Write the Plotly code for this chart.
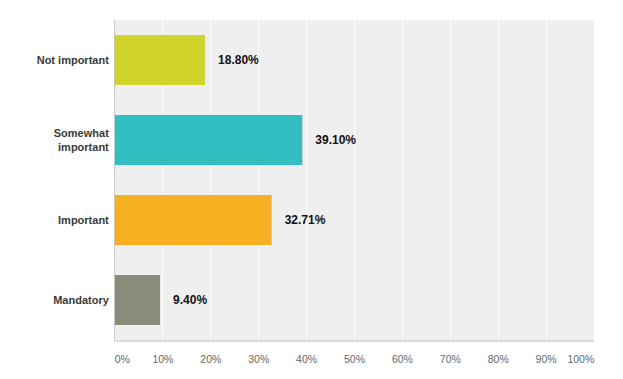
import plotly.graph_objects as go

categories = ["Not important", "Somewhat<br>important", "Important", "Mandatory"]
values = [18.80, 39.10, 32.71, 9.40]
colors = ["#d0d42a", "#33bec1", "#f7b021", "#8b8b7b"]
tick_vals = [0, 10, 20, 30, 40, 50, 60, 70, 80, 90, 100]
tick_text = ["0%", "10%", "20%", "30%", "40%", "50%", "60%", "70%", "80%", "90%", "100%"]

nb = "\u00a0"
tick_text_disp = list(tick_text)
tick_text_disp[0] = nb * 5 + tick_text[0]
tick_text_disp[-1] = tick_text[-1] + nb * 9

fig = go.Figure(go.Bar(
    y=categories,
    x=values,
    orientation="h",
    marker=dict(color=colors, line=dict(width=0)),
    width=0.625,
    text=[nb * 3 + f"{v:.2f}%" for v in values],
    textposition="outside",
    textfont=dict(family="Arial, Liberation Sans, sans-serif", size=12, color="#111111", weight="bold"),
    cliponaxis=False,
    hoverinfo="skip",
))

# page body has an 8px margin, so the figure is offset by 8px
fig.update_layout(
    width=615, height=371,
    margin=dict(l=106.5, r=29, t=12, b=39, autoexpand=False),
    paper_bgcolor="white",
    plot_bgcolor="#efefef",
    showlegend=False,
    bargap=0.375,
    font=dict(family="Arial, Liberation Sans, sans-serif"),
)
fig.update_xaxes(
    range=[0, 100],
    tickvals=tick_vals,
    ticktext=tick_text_disp,
    showgrid=True, gridcolor="white", gridwidth=1,
    zeroline=False,
    showline=True, linecolor="#dcdcdc", linewidth=2,
    ticks="outside", ticklen=8, tickcolor="rgba(0,0,0,0)",
    tickfont=dict(size=10.5, color="#666666"),
    automargin=False,
    fixedrange=True,
)
fig.update_yaxes(
    categoryorder="array", categoryarray=categories,
    autorange="reversed",
    showgrid=False, zeroline=False,
    showline=True, linecolor="#c8c8c8", linewidth=1,
    ticks="outside", ticklen=3, tickcolor="rgba(0,0,0,0)",
    tickfont=dict(size=11, color="#3a3a3a", family="Arial, Liberation Sans, sans-serif", weight="bold"),
    automargin=False,
    fixedrange=True,
)

fig.write_html("out.html")
